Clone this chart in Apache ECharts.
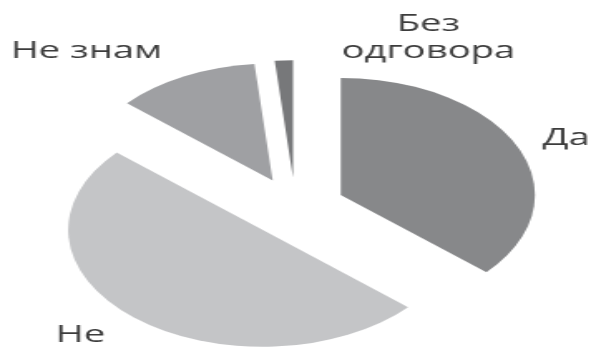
<!DOCTYPE html>
<html>
<head>
<meta charset="utf-8">
<script src="https://cdn.jsdelivr.net/npm/echarts@6/dist/echarts.min.js"></script>
<style>
  html, body { margin: 0; padding: 0; background: #ffffff; overflow: hidden; }
  #wrap { width: 593px; height: 349px; overflow: hidden; position: relative; }
  #chart { position: absolute; left: 0; top: 0; height: 349px; transform-origin: 0 0; }
</style>
</head>
<body>
<div id="wrap"><div id="chart"></div></div>
<script>
// Survey answers (percent)
const categories = ['Да', 'Не', 'Не знам', 'Без одговора'];
const shares = [36.5, 50, 12, 1.5];
const sliceColors = ['#87888a', '#c4c5c7', '#9fa0a3', '#77787a'];

// The pie is drawn round and then widened horizontally into an ellipse.
const STRETCH = 1.66;
const chartWidth = 593 / STRETCH;

// Label centres in the unstretched drawing space (x, y), one per category.
const labelCentres = [
  [341, 138],
  [48.5, 335],
  [52, 51],
  [258, 38]
];

const el = document.getElementById('chart');
el.style.width = chartWidth + 'px';
el.style.transform = 'scaleX(' + STRETCH + ')';

const chart = echarts.init(el, null, { renderer: 'canvas' });

chart.setOption({
  animation: false,
  graphic: categories.map((name, i) => ({
    type: 'text',
    x: labelCentres[i][0],
    y: labelCentres[i][1],
    silent: true,
    style: {
      text: name === 'Без одговора' ? 'Без\nодговора' : name,
      fontFamily: 'Open Sans',
      fontSize: 23,
      lineHeight: 27,
      fill: '#3c3c3c',
      align: 'center',
      verticalAlign: 'middle'
    }
  })),
  series: [{
    type: 'pie',
    center: [177.9, 207.3],
    radius: 117,
    startAngle: 90,
    clockwise: true,
    selectedMode: 'multiple',
    selectedOffset: 30,
    emphasis: { disabled: true },
    itemStyle: { borderWidth: 0 },
    label: { show: false },
    labelLine: { show: false },
    data: categories.map((name, i) => ({
      name: name,
      value: shares[i],
      selected: true,
      itemStyle: { color: sliceColors[i] }
    }))
  }]
});
</script>
</body>
</html>
